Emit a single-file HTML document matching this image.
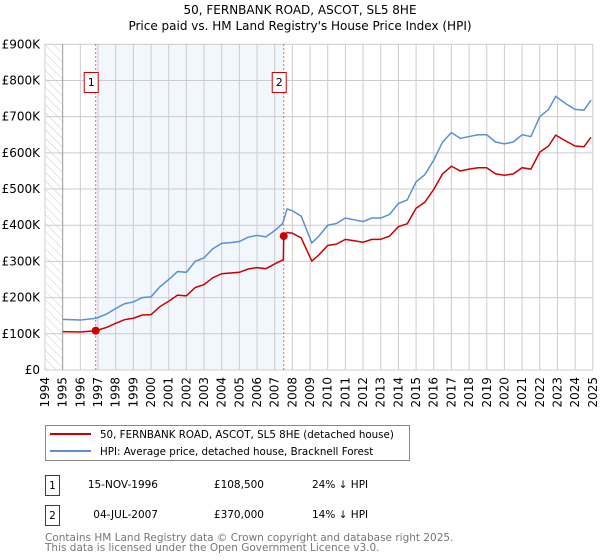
<!DOCTYPE html>
<html><head><meta charset="utf-8"><style>
body{margin:0;background:#fff;font-family:"DejaVu Sans","Liberation Sans",sans-serif;}
svg{display:block}
</style></head><body>
<svg width="600" height="560" viewBox="0 0 600 560" xmlns="http://www.w3.org/2000/svg" font-family="DejaVu Sans, Liberation Sans, sans-serif">
<defs><pattern id="hatch" width="6" height="6" patternUnits="userSpaceOnUse" patternTransform="rotate(-45)"><line x1="0" y1="0" x2="0" y2="6" stroke="#ccc" stroke-width="1"/></pattern></defs>
<text x="300" y="14" text-anchor="middle" font-size="12">50, FERNBANK ROAD, ASCOT, SL5 8HE</text>
<text x="300" y="30" text-anchor="middle" font-size="12">Price paid vs. HM Land Registry's House Price Index (HPI)</text>
<g id="plot"></g>
<rect x="45.5" y="425.5" width="364" height="35" fill="#fff" stroke="#888"/>
<line x1="50" y1="434" x2="91" y2="434" stroke="#cc0000" stroke-width="2"/>
<text x="100" y="438" font-size="10.3">50, FERNBANK ROAD, ASCOT, SL5 8HE (detached house)</text>
<line x1="50" y1="451" x2="91" y2="451" stroke="#5b8fd4" stroke-width="2"/>
<text x="100" y="455" font-size="10.3">HPI: Average price, detached house, Bracknell Forest</text>
<rect x="45.5" y="475.5" width="14" height="20" fill="#fff" stroke="#cc0000"/>
<text x="52.5" y="489" font-size="10.5" text-anchor="middle">1</text>
<text x="158" y="488" font-size="10.5" text-anchor="end">15-NOV-1996</text>
<text x="264" y="488" font-size="10.5" text-anchor="end">£108,500</text>
<text x="312" y="488" font-size="10.5">24% ↓ HPI</text>
<rect x="45.5" y="505.5" width="14" height="20" fill="#fff" stroke="#cc0000"/>
<text x="52.5" y="519" font-size="10.5" text-anchor="middle">2</text>
<text x="158" y="518" font-size="10.5" text-anchor="end">04-JUL-2007</text>
<text x="264" y="518" font-size="10.5" text-anchor="end">£370,000</text>
<text x="312" y="518" font-size="10.5">14% ↓ HPI</text>
<text x="45" y="541" font-size="10.5" fill="#777">Contains HM Land Registry data © Crown copyright and database right 2025.</text>
<text x="45" y="551" font-size="10.5" fill="#777">This data is licensed under the Open Government Licence v3.0.</text>
</svg>
<script>
const yTicks=[0,100,200,300,400,500,600,700,800,900];
const yLabels=["£0","£100K","£200K","£300K","£400K","£500K","£600K","£700K","£800K","£900K"];
const years=[1994,1995,1996,1997,1998,1999,2000,2001,2002,2003,2004,2005,2006,2007,2008,2009,2010,2011,2012,2013,2014,2015,2016,2017,2018,2019,2020,2021,2022,2023,2024,2025];
const hpiT=[1995,1996,1996.9,1997.5,1998,1998.5,1999,1999.5,2000,2000.5,2001,2001.5,2002,2002.5,2003,2003.5,2004,2004.5,2005,2005.5,2006,2006.5,2007,2007.45,2007.7,2008,2008.5,2009.1,2009.5,2010,2010.5,2011,2011.5,2012,2012.5,2013,2013.5,2014,2014.5,2015,2015.5,2016,2016.5,2017,2017.5,2018,2018.5,2019,2019.5,2020,2020.5,2021,2021.5,2022,2022.5,2022.9,2023.5,2024,2024.5,2024.9];
const hpiV=[140,138,143,155,170,183,188,200,202,230,250,272,270,300,310,335,350,352,355,367,372,368,385,405,445,440,425,351,370,400,405,420,415,410,420,420,430,460,470,520,540,580,630,656,640,645,650,650,630,625,630,650,645,700,720,756,735,720,718,746];
const priceT=[1995,1996,1996.87,1997.5,1998,1998.5,1999,1999.5,2000,2000.5,2001,2001.5,2002,2002.5,2003,2003.5,2004,2004.5,2005,2005.5,2006,2006.5,2007,2007.49,2007.51,2007.7,2008,2008.5,2009.1,2009.5,2010,2010.5,2011,2011.5,2012,2012.5,2013,2013.5,2014,2014.5,2015,2015.5,2016,2016.5,2017,2017.5,2018,2018.5,2019,2019.5,2020,2020.5,2021,2021.5,2022,2022.5,2022.9,2023.5,2024,2024.5,2024.9];
const priceV=[106,105,108.5,118,129,139,143,152,153,175,190,207,205,228,236,255,266,268,270,279,283,280,293,305,370,380,378,365,301,318,344,348,361,357,353,361,361,370,396,404,447,464,499,542,563,550,555,559,559,542,538,542,559,555,602,619,649,632,619,617,643];
const saleT=[1996.87,2007.51];
const saleV=[108.5,370];
const saleLabels=["1","2"];
const X=t=>45+(t-1994)*17.67, Y=v=>370-v*0.3619;
const NS="http://www.w3.org/2000/svg", g=document.getElementById('plot');
function mk(tag,attrs,parent){const e=document.createElementNS(NS,tag);for(const k in attrs)e.setAttribute(k,attrs[k]);(parent||g).appendChild(e);return e;}
let e;
e=mk('rect',{x:X(saleT[0]),y:44,width:X(saleT[1])-X(saleT[0]),height:326,fill:'#f2f6fd'});


e=mk('rect',{x:45,y:44,width:X(1995)-45,height:326,fill:'url(#hatch)'});


yTicks.forEach((v,i)=>{
 e=mk('line',{x1:45,x2:593,y1:Y(v),y2:Y(v),stroke:'#ccc','stroke-width':1});
 
 
 e=mk('text',{x:40,y:Y(v)+4,'text-anchor':'end','font-size':12});
 e.textContent=yLabels[i];
 
 
});
years.forEach(yr=>{
 e=mk('line',{x1:X(yr),x2:X(yr),y1:44,y2:370,stroke:yr==1995?'#999':'#ccc','stroke-width':1});
 
 
 e=mk('text',{x:0,y:0,'text-anchor':'end','font-size':12,transform:`translate(${X(yr)+4},377) rotate(-90)`});
 e.textContent=yr;
 
 
});
saleT.forEach((t,i)=>{
 e=mk('line',{x1:X(t),x2:X(t),y1:44,y2:370,stroke:'#e66','stroke-width':1,'stroke-dasharray':'2,2'});
 
 
 e=mk('rect',{x:X(t)-11.5,y:72.5,width:14,height:20,fill:'#fff',stroke:'#cc0000'});
 
 
 e=mk('text',{x:X(t)-4.5,y:86,'text-anchor':'middle','font-size':11});
 e.textContent=saleLabels[i];
 
 
});
e=mk('polyline',{points:hpiT.map((t,i)=>X(t)+','+Y(hpiV[i])).join(' '),fill:'none',stroke:'#5b8fd4','stroke-width':1.5});


e=mk('polyline',{points:priceT.map((t,i)=>X(t)+','+Y(priceV[i])).join(' '),fill:'none',stroke:'#cc0000','stroke-width':1.5});


saleT.forEach((t,i)=>{
 e=mk('circle',{cx:X(t),cy:Y(saleV[i]),r:4,fill:'#cc0000'});
 
 
});
</script>
</body></html>
